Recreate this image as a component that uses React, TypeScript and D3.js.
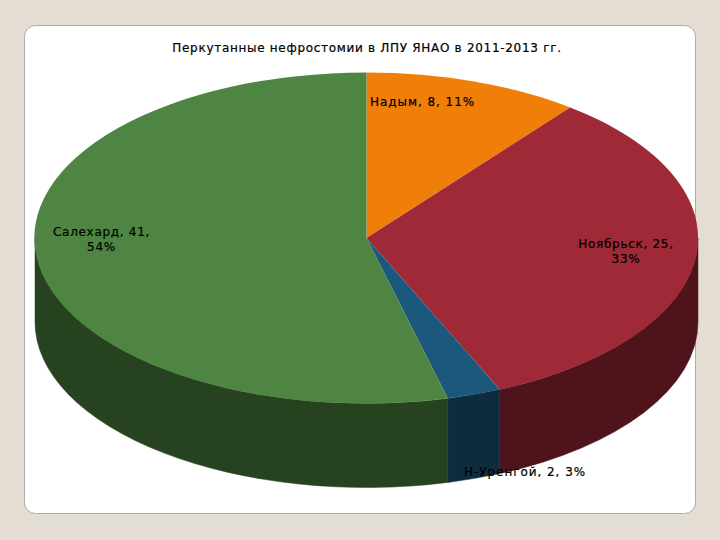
import React from 'react';
import * as d3 from 'd3';

const categories = ['Надым', 'Ноябрьск', 'Н-Уренгой', 'Салехард'];
const values = [8, 25, 2, 41];
const percents = ['11%', '33%', '3%', '54%'];
const topColors = ['#f07f09', '#9f2936', '#1b587c', '#4e8542'];
const sideColors = ['#78400a', '#4f141b', '#0e2c3e', '#27421f'];

const width = 720;
const height = 540;
const cx = 366.5;
const cy = 238;
const rx = 331.5;
const ry = 165.5;
const depth = 84;

const px = (a: number) => cx + rx * Math.sin(a);
const py = (a: number) => cy - ry * Math.cos(a);

const pie = d3.pie<number>().sort(null)(values);
const arc = d3.arc<d3.PieArcDatum<number>>().innerRadius(0).outerRadius(1);

// outer wall of a slice, only the part that faces the viewer (90deg..270deg)
const wallPath = (start: number, end: number) => {
  const a0 = Math.max(start, Math.PI / 2);
  const a1 = Math.min(end, (3 * Math.PI) / 2);
  if (a1 <= a0) return null;
  return (
    `M${px(a0)},${py(a0)}` +
    `A${rx},${ry} 0 0 1 ${px(a1)},${py(a1)}` +
    `L${px(a1)},${py(a1) + depth}` +
    `A${rx},${ry} 0 0 0 ${px(a0)},${py(a0) + depth}Z`
  );
};

const labelStyle: React.CSSProperties = {
  fontFamily: '"DejaVu Sans", Verdana, sans-serif',
  fontSize: 12,
  letterSpacing: 0.7,
  fill: '#000',
  stroke: '#000',
  strokeWidth: 0.2,
};
const wideLabelStyle: React.CSSProperties = { ...labelStyle, letterSpacing: 0.95 };

const App: React.FC = () => {
  return (
    <svg
      width={width}
      height={height}
      style={{ position: 'absolute', left: 0, top: 0, background: '#e3ddd3' }}
    >
      <rect x={24.5} y={25.5} width={671} height={488} rx={11} fill="#fff" stroke="#aeaca4" strokeWidth={1} />

      <text x={367} y={52} textAnchor="middle" style={labelStyle}>
        Перкутанные нефростомии в ЛПУ ЯНАО в 2011-2013 гг.
      </text>

      {pie.map((d, i) => {
        const wall = wallPath(d.startAngle, d.endAngle);
        return wall ? <path key={i} d={wall} fill={sideColors[i]} stroke={sideColors[i]} strokeWidth={0.5} /> : null;
      })}
      {pie.map((d, i) => (
        <path
          key={i}
          d={arc(d) || ''}
          transform={`translate(${cx},${cy}) scale(${rx},${ry})`}
          fill={topColors[i]}
        />
      ))}

      <text x={370} y={106} style={wideLabelStyle}>
        {`${categories[0]}, ${values[0]}, ${percents[0]}`}
      </text>
      <text textAnchor="middle" style={labelStyle}>
        <tspan x={626} y={248}>{`${categories[1]}, ${values[1]},`}</tspan>
        <tspan x={626} y={263}>{percents[1]}</tspan>
      </text>
      <text x={464} y={476} style={wideLabelStyle}>
        {`${categories[2]}, ${values[2]}, ${percents[2]}`}
      </text>
      <text textAnchor="middle" style={labelStyle}>
        <tspan x={101.5} y={236}>{`${categories[3]}, ${values[3]},`}</tspan>
        <tspan x={101.5} y={251}>{percents[3]}</tspan>
      </text>
    </svg>
  );
};

export default App;
